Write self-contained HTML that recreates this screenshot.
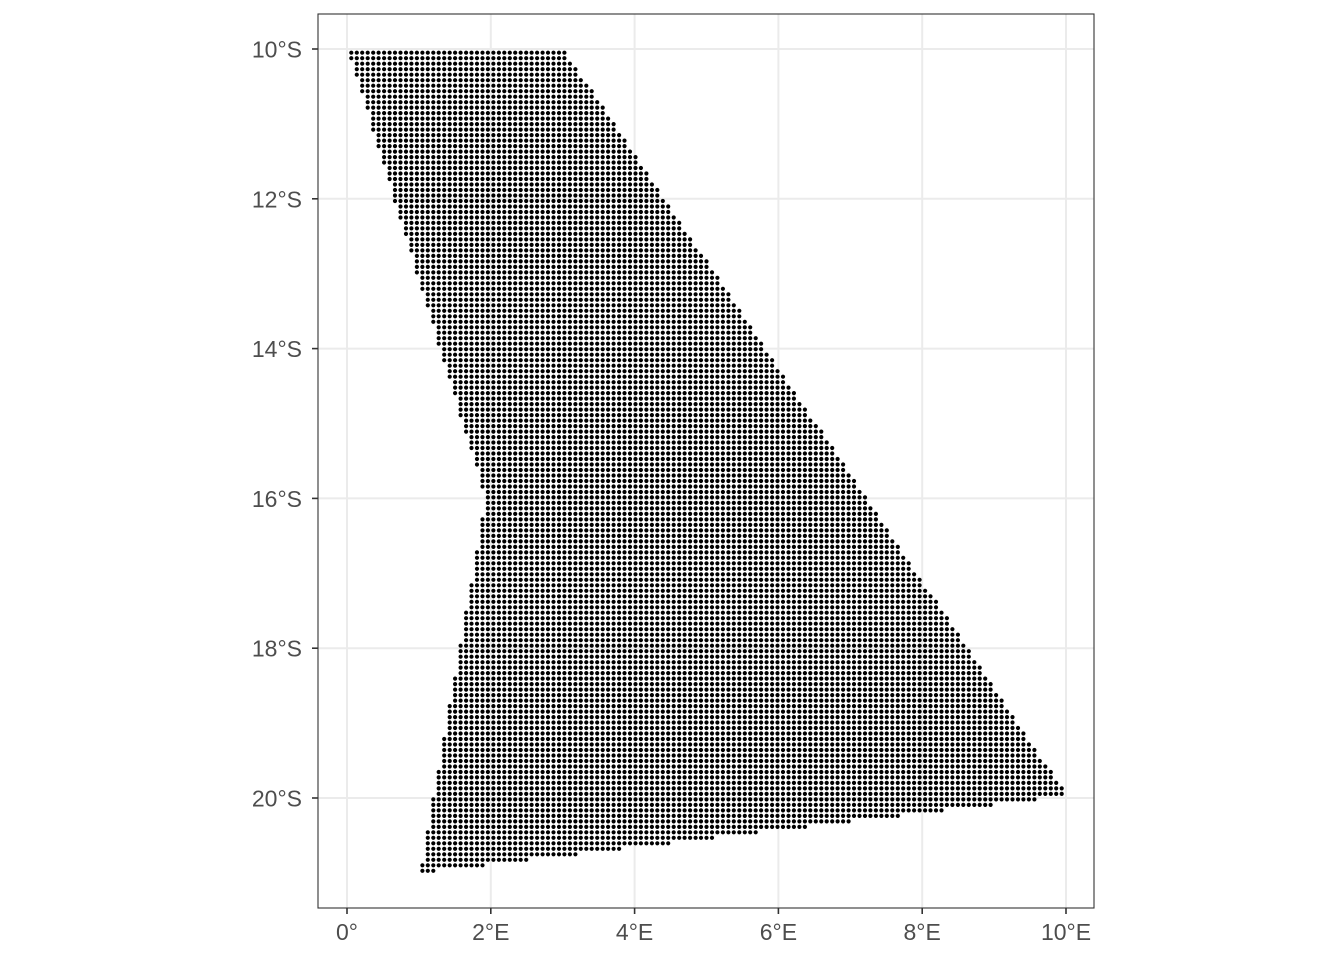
<!DOCTYPE html>
<html><head><meta charset="utf-8"><style>
body{margin:0;background:#fff;font-family:"Liberation Sans",sans-serif}
</style></head><body>
<svg id="chart" width="1344" height="960" xmlns="http://www.w3.org/2000/svg">
<rect x="318" y="14" width="776" height="894" fill="#fff"/>
<g id="grid"></g>
<g id="pts"></g>
<rect x="318" y="14" width="776" height="894" fill="none" stroke="#333" stroke-width="1.1"/>
<g id="axes"></g>
</svg>
<script>
const xTicks=[0,2,4,6,8,10];
const xTickLabels=["0°","2°E","4°E","6°E","8°E","10°E"];
const yTicks=[-10,-12,-14,-16,-18,-20];
const yTickLabels=["10°S","12°S","14°S","16°S","18°S","20°S"];
const polyLon=[0.03,3.03,9.95,9.95,1.02,1.93];
const polyLat=[-10.03,-10.03,-19.88,-19.98,-21.0,-16.0];
const lonStep=0.076, latStep=0.0733;
const lonStart=0.06, latStart=-10.05;

const sx=v=>347+v*71.9;
const sy=v=>49+(-10-v)*74.9;
const NS="http://www.w3.org/2000/svg";
function mk(t,a,p){const e=document.createElementNS(NS,t);for(const k in a)e.setAttribute(k,a[k]);p.appendChild(e);return e;}
const grid=document.getElementById('grid'),axes=document.getElementById('axes'),pts=document.getElementById('pts');
xTicks.forEach((t,i)=>{
 const l=mk('line',{x1:sx(t),x2:sx(t),y1:14,y2:908,stroke:'#ebebeb','stroke-width':2},grid);
 
 
 const k=mk('line',{x1:sx(t),x2:sx(t),y1:908,y2:914,stroke:'#333','stroke-width':1.6},axes);
 
 
 const tx=mk('text',{x:sx(t),y:940,'text-anchor':'middle','font-size':'23','fill':'#4d4d4d'},axes);
 tx.textContent=xTickLabels[i];
 
 
});
yTicks.forEach((t,i)=>{
 const l=mk('line',{x1:318,x2:1094,y1:sy(t),y2:sy(t),stroke:'#ebebeb','stroke-width':2},grid);
 
 
 const k=mk('line',{x1:312,x2:318,y1:sy(t),y2:sy(t),stroke:'#333','stroke-width':1.6},axes);
 
 
 const tx=mk('text',{x:302,y:sy(t)+8.5,'text-anchor':'end','font-size':'23','fill':'#4d4d4d'},axes);
 tx.textContent=yTickLabels[i];
 
 
});
function inside(x,y){let c=false;const n=polyLon.length;for(let i=0,j=n-1;i<n;j=i++){const xi=polyLon[i],yi=polyLat[i],xj=polyLon[j],yj=polyLat[j];if(((yi>y)!=(yj>y))&&(x<(xj-xi)*(y-yi)/(yj-yi)+xi))c=!c;}return c;}
let d="";
const r=2.1;
for(let la=latStart;la>=-21.05;la-=latStep){
 for(let lo=lonStart;lo<=10;lo+=lonStep){
  if(inside(lo,la-0.0001)){const x=sx(lo),y=sy(la);d+=`M${(x-r).toFixed(1)},${y.toFixed(1)}a${r},${r} 0 1,0 ${2*r},0a${r},${r} 0 1,0 ${-2*r},0`;}
 }
}
const p=mk('path',{d:d,fill:'#000'},pts);


</script>
</body></html>
